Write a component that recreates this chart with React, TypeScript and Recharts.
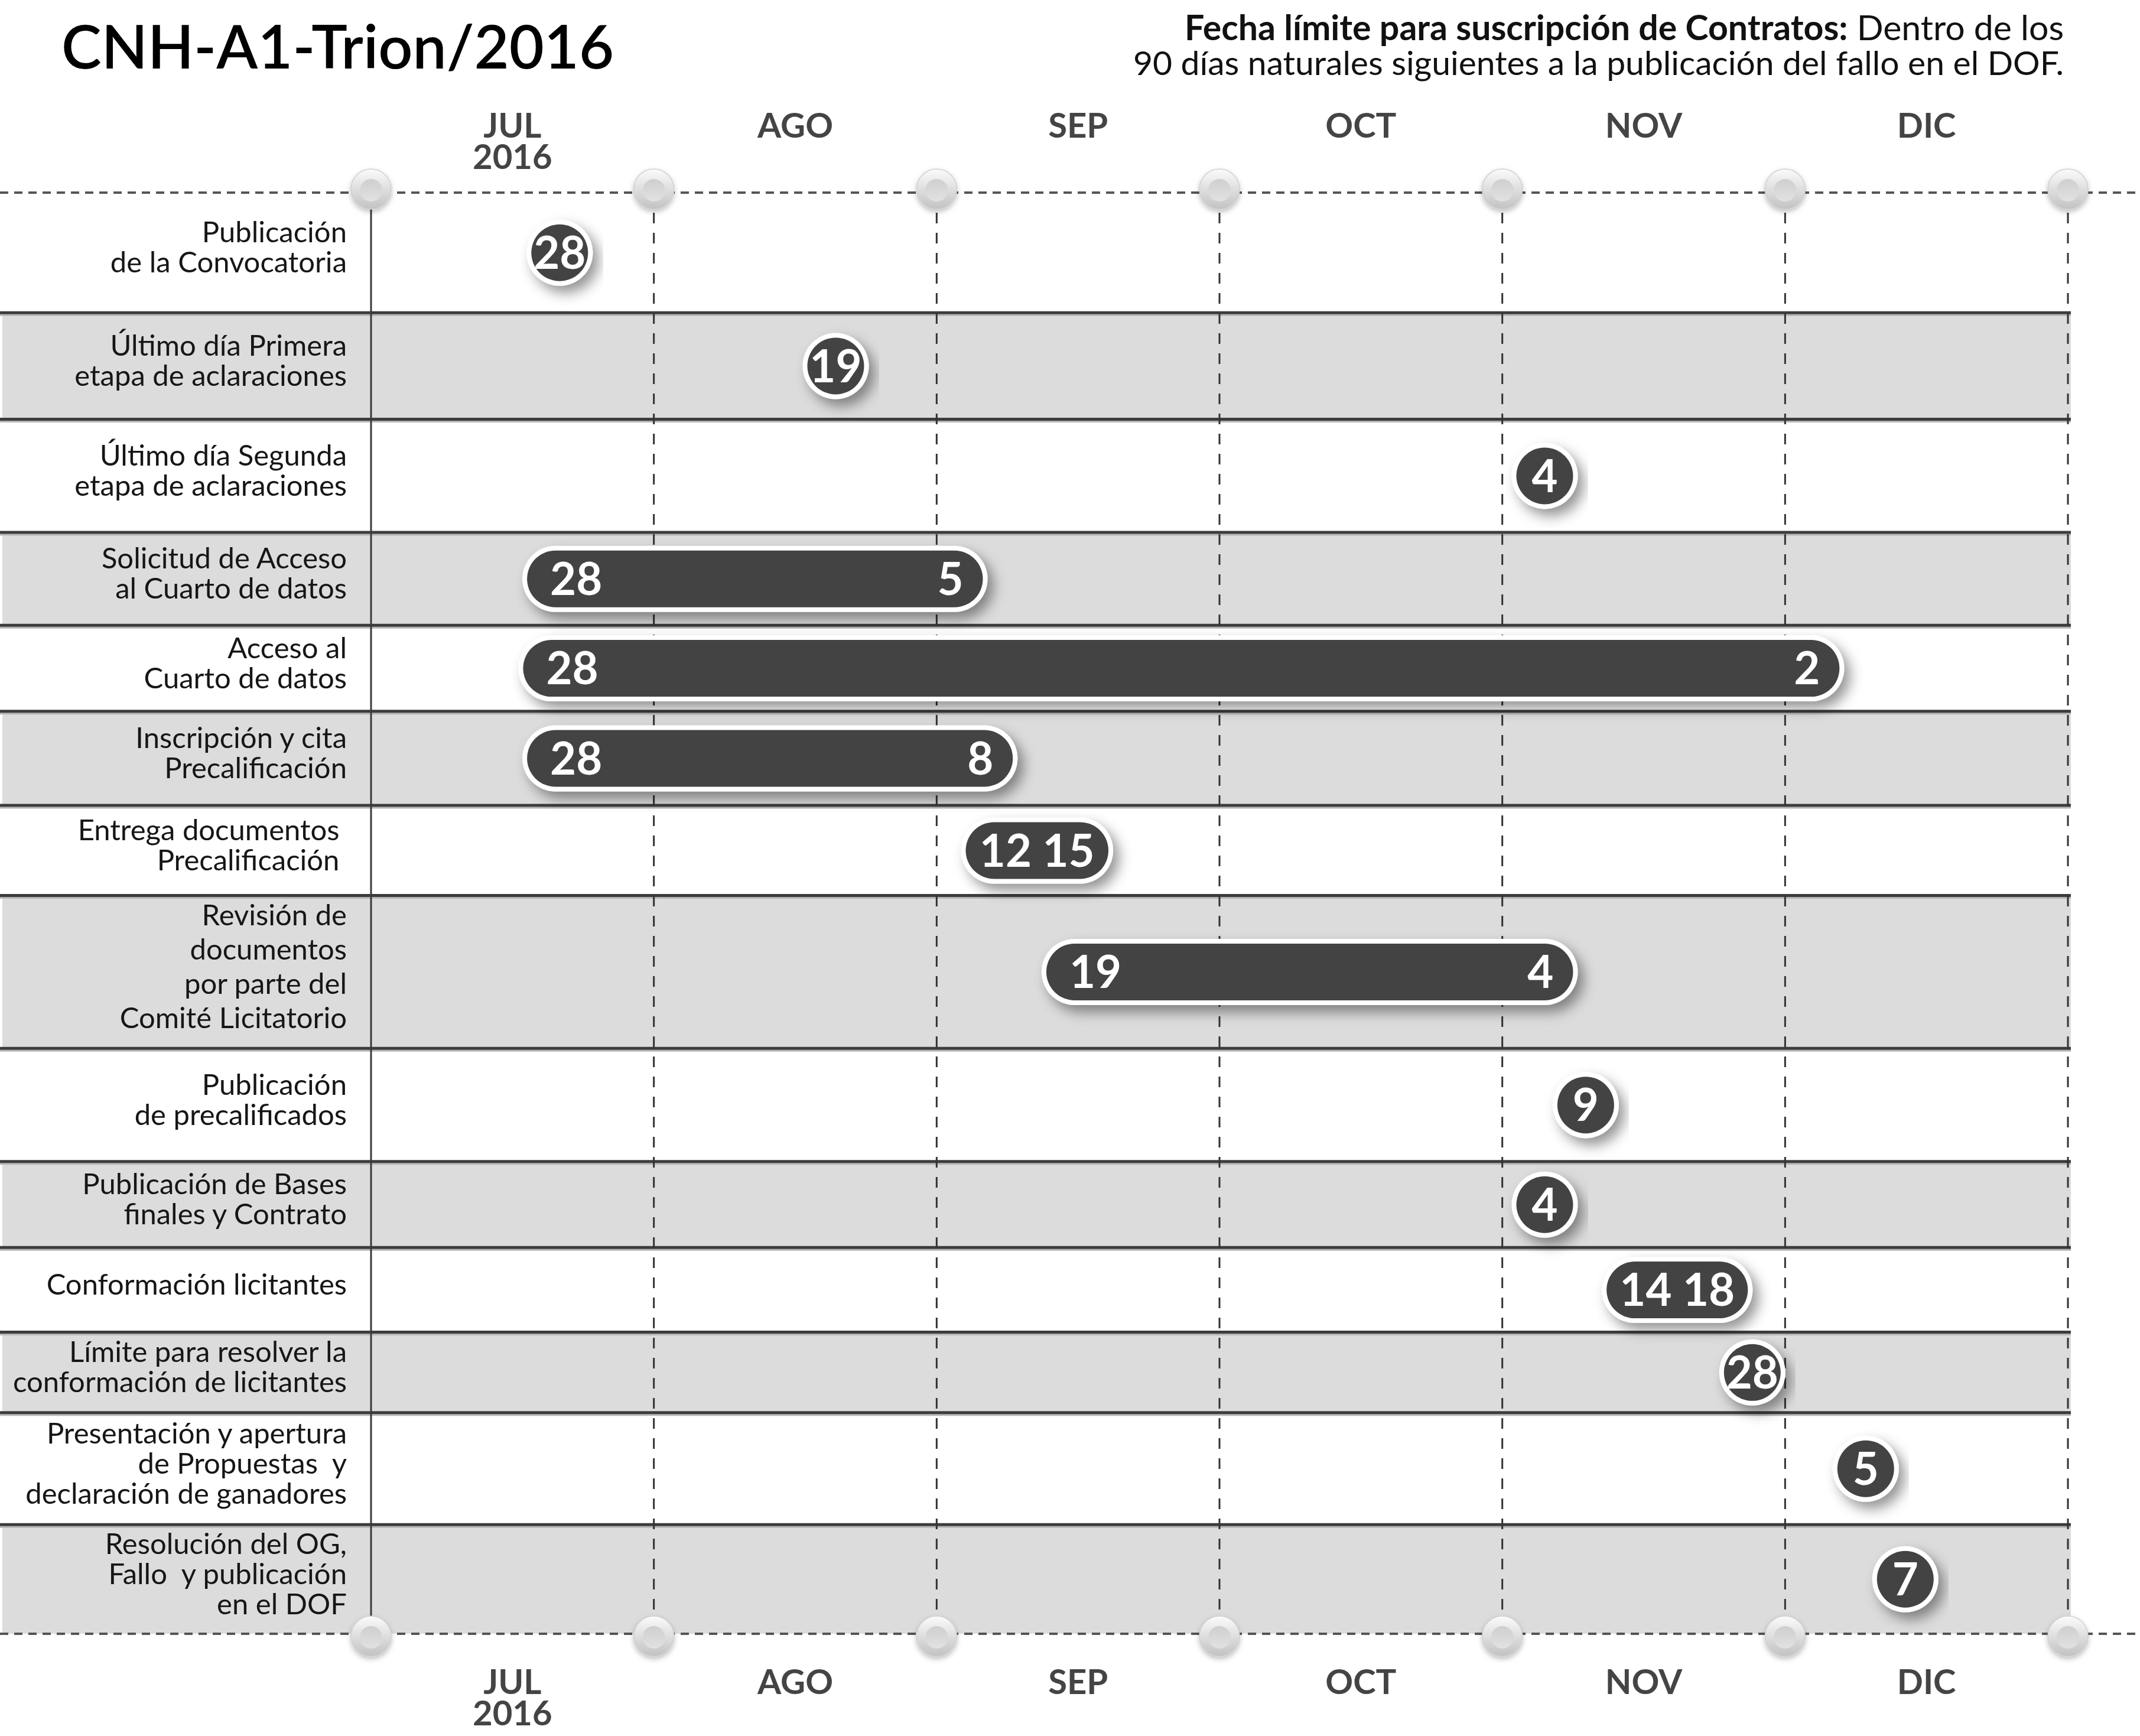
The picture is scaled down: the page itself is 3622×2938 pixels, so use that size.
import React from "react";
import {
  ComposedChart,
  Bar,
  XAxis,
  YAxis,
  ReferenceArea,
  ReferenceLine,
  ReferenceDot,
} from "recharts";

// ---- data ----
const monthLabels = ["JUL", "AGO", "SEP", "OCT", "NOV", "DIC"];
const monthTicks = [0.5, 1.5, 2.5, 3.5, 4.5, 5.5];
const yearLabel = "2016";
const monthEdges = [0, 1, 2, 3, 4, 5, 6];

const rowLabels = [
  ["Publicación", "de la Convocatoria"],
  ["Último día Primera", "etapa de aclaraciones"],
  ["Último día Segunda", "etapa de aclaraciones"],
  ["Solicitud de Acceso", "al Cuarto de datos"],
  ["Acceso al", "Cuarto de datos"],
  ["Inscripción y cita", "Precalificación"],
  ["Entrega documentos ", "Precalificación "],
  ["Revisión de", "documentos", "por parte del", "Comité Licitatorio"],
  ["Publicación", "de precalificados"],
  ["Publicación de Bases", "finales y Contrato"],
  ["Conformación licitantes"],
  ["Límite para resolver la", "conformación de licitantes"],
  ["Presentación y apertura", "de Propuestas  y", "declaración de ganadores"],
  ["Resolución del OG,", "Fallo  y publicación", "en el DOF"],
];

// day labels shown in the marks
const startDays = ["28", "19", "4", "28", "28", "28", "12", "19", "9", "4", "14", "28", "5", "7"];
const endDays = ["", "", "", "5", "2", "8", "15", "4", "", "", "18", "", "", ""];

// positions on the month axis (0 = start of JUL, 1 month per unit)
const startPos = [0.667, 1.643, 4.15, 0.652, 0.638, 0.652, 2.203, 2.488, 4.295, 4.15, 4.469, 4.884, 5.285, 5.425];
const endPos = [0.667, 1.643, 4.15, 2.063, 5.092, 2.169, 2.507, 4.15, 4.295, 4.15, 4.768, 4.884, 5.285, 5.425];

// ---- layout ----
const rowHeights = [88, 78, 83, 68, 63, 69, 66, 112, 83, 63, 62, 59, 82, 80];
const W = 3622;
const H = 2938;
const PLOT_LEFT = 628;
const PLOT_RIGHT = 3500;
const PLOT_TOP = 326;
const PLOT_BOTTOM = 2765;
const AXIS_H = 40;
const FONT = "Lato, 'Open Sans', sans-serif";
const DARK = "#434343";

const rowTops: number[] = [];
rowHeights.reduce((acc, h) => {
  rowTops.push(acc);
  return acc + h;
}, 0);
const total = rowHeights.reduce((a, b) => a + b, 0);
const rowCenters = rowHeights.map((h, i) => rowTops[i] + h / 2);

const rows = rowLabels.map((_, i) => ({
  y: rowCenters[i],
  range: [startPos[i], endPos[i]],
  startLabel: startDays[i],
  endLabel: endDays[i],
}));

function PillShape(props: any) {
  const { x, y, width, height, payload } = props;
  const r = height / 2;
  const b = 8;
  const left = x - r;
  const right = x + Math.max(0, width) + r;
  const span = right - left;
  const cy = y + r;
  const fs = 76;
  const base = cy + fs * 0.36;
  const txt = { fill: "#fff", fontSize: fs, fontWeight: 700, fontFamily: FONT };
  let labels;
  if (!payload.endLabel) {
    labels = <text x={(left + right) / 2} y={base} textAnchor="middle" {...txt}>{payload.startLabel}</text>;
  } else if (span < 320) {
    labels = (
      <text x={(left + right) / 2} y={base} textAnchor="middle" style={{ whiteSpace: "pre" }} {...txt}>
        {payload.startLabel + " " + payload.endLabel}
      </text>
    );
  } else {
    labels = (
      <g>
        <text x={left + 39} y={base} textAnchor="start" {...txt}>{payload.startLabel}</text>
        <text x={right - 33} y={base} textAnchor="end" {...txt}>{payload.endLabel}</text>
      </g>
    );
  }
  return (
    <g>
      <rect x={left - b} y={y - b} width={span + 2 * b} height={height + 2 * b} rx={r + b} fill="#fff" filter="url(#pillShadow)" />
      <rect x={left} y={y} width={span} height={height} rx={r} fill={DARK} />
      {labels}
    </g>
  );
}

function RowTick(props: any) {
  const { x, y, payload } = props;
  const i = rowCenters.findIndex((c) => Math.abs(c - payload.value) < 0.01);
  if (i < 0) return <g />;
  const lines = rowLabels[i];
  const fs = 49;
  const lh = lines.length > 3 ? 58 : 51;
  const y0 = y - 9 - ((lines.length - 1) * lh) / 2 + fs * 0.35;
  return (
    <text textAnchor="end" fontSize={fs} fontFamily={FONT} fill="#161616" style={{ whiteSpace: "pre" }}>
      {lines.map((l, k) => (
        <tspan key={k} x={x - 41} y={y0 + k * lh}>{l}</tspan>
      ))}
    </text>
  );
}

function MonthTick(props: any) {
  const { x, y, payload, side } = props;
  const i = monthTicks.indexOf(payload.value);
  const y1 = side === "top" ? y - 93 : y + 102;
  const st = { fontSize: 58, fontWeight: 700, fill: "#444", fontFamily: FONT };
  return (
    <g>
      <text x={x} y={y1} textAnchor="middle" {...st}>{monthLabels[i]}</text>
      {i === 0 && <text x={x} y={y1 + 53} textAnchor="middle" {...st}>{yearLabel}</text>}
    </g>
  );
}

function RowBand(props: any, i: number) {
  const { y, height, x, width } = props;
  const right = x + width + 5;
  return (
    <g>
      {i % 2 === 1 && <rect x={4} y={y} width={right - 4} height={height} fill="#dcdcdc" />}
      {i > 0 && (
        <g>
          <line x1={0} x2={right} y1={y + 4} y2={y + 4} stroke="#b5b5b5" strokeWidth={3} />
          <line x1={0} x2={right} y1={y} y2={y} stroke="#3c3c3c" strokeWidth={5} />
        </g>
      )}
    </g>
  );
}

function Knob(props: any, dy: number) {
  const { cx, cy } = props;
  const c = cy + dy;
  return (
    <g filter="url(#knobShadow)">
      <circle cx={cx} cy={c} r={34} fill="url(#knobGrad)" stroke="#d0d0d0" strokeWidth={1.5} />
      <circle cx={cx} cy={c + 2} r={19} fill="url(#knobInner)" />
    </g>
  );
}

export default function App() {
  return (
    <div style={{ position: "absolute", left: 0, top: 0, width: W, height: H, background: "#fff", fontFamily: FONT }}>
      <ComposedChart
        width={W}
        height={H}
        data={rows}
        layout="vertical"
        margin={{ top: PLOT_TOP - AXIS_H, right: W - PLOT_RIGHT, bottom: H - PLOT_BOTTOM - AXIS_H, left: 0 }}
      >
        <XAxis
          xAxisId="top"
          orientation="top"
          type="number"
          domain={[0, 6]}
          ticks={monthTicks}
          interval={0}
          height={AXIS_H}
          axisLine={false}
          tickLine={false}
          tickSize={0}
          tickMargin={0}
          allowDataOverflow
          tick={(p: any) => <MonthTick {...p} side="top" />}
        />
        <XAxis
          xAxisId="bottom"
          orientation="bottom"
          type="number"
          domain={[0, 6]}
          ticks={monthTicks}
          interval={0}
          height={AXIS_H}
          axisLine={false}
          tickLine={false}
          tickSize={0}
          tickMargin={0}
          allowDataOverflow
          tick={(p: any) => <MonthTick {...p} side="bottom" />}
        />
        <YAxis
          yAxisId="rows"
          type="number"
          dataKey="y"
          domain={[0, total]}
          ticks={rowCenters}
          interval={0}
          width={PLOT_LEFT}
          axisLine={false}
          tickLine={false}
          tickSize={0}
          tickMargin={0}
          allowDataOverflow
          tick={(p: any) => <RowTick {...p} />}
        />

        {rowHeights.map((h, i) => (
          <ReferenceArea
            key={"band" + i}
            xAxisId="top"
            yAxisId="rows"
            y1={rowTops[i]}
            y2={rowTops[i] + h}
            ifOverflow="visible"
            zIndex={50}
            shape={(p: any) => RowBand(p, i)}
          />
        ))}

        {monthEdges.map((m) => (
          <ReferenceLine
            key={"v" + m}
            xAxisId="top"
            yAxisId="rows"
            x={m}
            stroke={m === 0 ? "#3a3a3a" : "#333"}
            strokeWidth={3}
            strokeDasharray={m === 0 ? undefined : "18 16"}
            ifOverflow="visible"
            zIndex={150}
          />
        ))}

        {[0, total].map((v) => (
          <ReferenceLine
            key={"h" + v}
            xAxisId="top"
            yAxisId="rows"
            y={v}
            ifOverflow="visible"
            zIndex={160}
            shape={(p: any) => (
              <line x1={0} x2={W} y1={p.y1} y2={p.y1} stroke="#555" strokeWidth={4} strokeDasharray="14 10" />
            )}
          />
        ))}

        <Bar
          xAxisId="top"
          yAxisId="rows"
          dataKey="range"
          barSize={96}
          isAnimationActive={false}
          shape={PillShape}
          zIndex={300}
        />

        {monthEdges.map((m) => (
          <ReferenceDot
            key={"kt" + m}
            xAxisId="top"
            yAxisId="rows"
            x={m}
            y={0}
            ifOverflow="visible"
            zIndex={700}
            shape={(p: any) => Knob(p, -6)}
          />
        ))}
        {monthEdges.map((m) => (
          <ReferenceDot
            key={"kb" + m}
            xAxisId="top"
            yAxisId="rows"
            x={m}
            y={total}
            ifOverflow="visible"
            zIndex={700}
            shape={(p: any) => Knob(p, 4)}
          />
        ))}
      </ComposedChart>

      <svg width={W} height={170} style={{ position: "absolute", left: 0, top: 0 }}>
        <defs>
          <filter id="pillShadow" x="-10%" y="-40%" width="125%" height="200%">
            <feDropShadow dx="10" dy="12" stdDeviation="11" floodColor="#000" floodOpacity="0.42" />
          </filter>
          <filter id="knobShadow" x="-50%" y="-50%" width="200%" height="200%">
            <feDropShadow dx="0" dy="4" stdDeviation="4" floodColor="#000" floodOpacity="0.25" />
          </filter>
          <linearGradient id="knobGrad" x1="0" y1="0" x2="0" y2="1">
            <stop offset="0" stopColor="#fbfbfb" />
            <stop offset="1" stopColor="#c2c2c2" />
          </linearGradient>
          <linearGradient id="knobInner" x1="0" y1="0" x2="0" y2="1">
            <stop offset="0" stopColor="#cfcfcf" />
            <stop offset="1" stopColor="#e2e2e2" />
          </linearGradient>
        </defs>
        <text x={104} y={116} fontSize={102} fontWeight={600} fill="#000" fontFamily={FONT}>
          CNH-A1-Trion/2016
        </text>
        <text x={3493} y={68} textAnchor="end" fontSize={59} fill="#111" fontFamily={FONT}>
          <tspan fontWeight={700}>Fecha límite para suscripción de Contratos:</tspan> Dentro de los
        </text>
        <text x={3493} y={127} textAnchor="end" fontSize={57} fill="#111" fontFamily={FONT}>
          90 días naturales siguientes a la publicación del fallo en el DOF.
        </text>
      </svg>
    </div>
  );
}
